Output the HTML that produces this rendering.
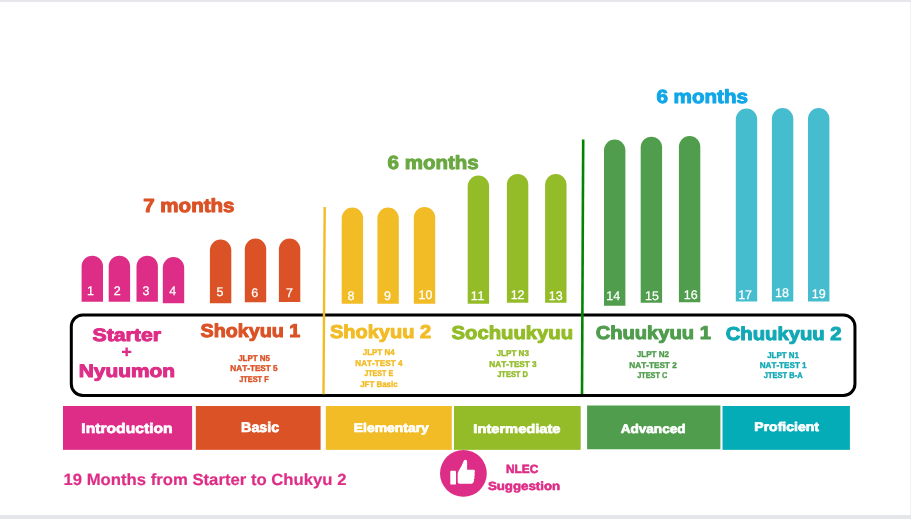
<!DOCTYPE html>
<html lang="en">
<head>
<meta charset="utf-8">
<title>NLEC Course Levels</title>
<style>
html,body{margin:0;padding:0;}
body{width:911px;height:519px;overflow:hidden;background:#ffffff;position:relative;
font-family:"Liberation Sans",sans-serif;}
#frame{position:absolute;left:0;top:0;width:911px;height:519px;}
#edge-top{position:absolute;left:0;top:0;width:911px;height:2px;background:#e5e7eb;}
#edge-bottom{position:absolute;left:0;top:515px;width:911px;height:4px;background:#e4e6ea;}
#edge-right{position:absolute;left:910px;top:2px;width:1px;height:513px;background:#f1f2f4;}
svg{position:absolute;left:0;top:0;will-change:transform;}
text{font-family:"Liberation Sans",sans-serif;font-kerning:none;text-rendering:geometricPrecision;}
</style>
</head>
<body>
<div id="frame">
<div id="edge-top"></div>
<div id="edge-bottom"></div>
<div id="edge-right"></div>
<svg width="911" height="519" viewBox="0 0 911 519">
<g id="bars">
<path d="M81.60 301.80V266.40A10.70 10.70 0 0 1 103.00 266.40V301.80Z" fill="#de2d87"/>
<path d="M108.70 301.80V266.40A10.70 10.70 0 0 1 130.10 266.40V301.80Z" fill="#de2d87"/>
<path d="M136.50 301.80V266.40A10.70 10.70 0 0 1 157.90 266.40V301.80Z" fill="#de2d87"/>
<path d="M162.80 303.20V267.80A10.70 10.70 0 0 1 184.20 267.80V303.20Z" fill="#de2d87"/>
<path d="M209.90 303.20V250.20A10.70 10.70 0 0 1 231.30 250.20V303.20Z" fill="#db5226"/>
<path d="M244.80 302.20V249.30A10.70 10.70 0 0 1 266.20 249.30V302.20Z" fill="#db5226"/>
<path d="M278.90 302.00V249.30A10.70 10.70 0 0 1 300.30 249.30V302.00Z" fill="#db5226"/>
<path d="M341.70 303.80V218.20A10.70 10.70 0 0 1 363.10 218.20V303.80Z" fill="#f2bc27"/>
<path d="M377.40 303.80V218.20A10.70 10.70 0 0 1 398.80 218.20V303.80Z" fill="#f2bc27"/>
<path d="M413.80 303.80V217.60A10.70 10.70 0 0 1 435.20 217.60V303.80Z" fill="#f2bc27"/>
<path d="M467.70 303.80V186.20A10.70 10.70 0 0 1 489.10 186.20V303.80Z" fill="#93bc28"/>
<path d="M506.90 302.80V184.60A10.70 10.70 0 0 1 528.30 184.60V302.80Z" fill="#93bc28"/>
<path d="M545.10 302.80V184.80A10.70 10.70 0 0 1 566.50 184.80V302.80Z" fill="#93bc28"/>
<path d="M604.00 305.80V150.20A10.70 10.70 0 0 1 625.40 150.20V305.80Z" fill="#4f9d4d"/>
<path d="M640.70 302.80V147.40A10.70 10.70 0 0 1 662.10 147.40V302.80Z" fill="#4f9d4d"/>
<path d="M678.90 302.20V146.80A10.70 10.70 0 0 1 700.30 146.80V302.20Z" fill="#4f9d4d"/>
<path d="M735.80 301.40V119.20A10.70 10.70 0 0 1 757.20 119.20V301.40Z" fill="#45bdcf"/>
<path d="M771.90 301.40V118.80A10.70 10.70 0 0 1 793.30 118.80V301.40Z" fill="#45bdcf"/>
<path d="M808.00 301.40V118.80A10.70 10.70 0 0 1 829.40 118.80V301.40Z" fill="#45bdcf"/>
</g>
<g id="bar-numbers" fill="#ffffff" stroke="#ffffff" stroke-width="0.25" font-size="12.5" text-anchor="middle">
<text x="90.40" y="295.20">1</text>
<text x="117.30" y="295.20">2</text>
<text x="145.90" y="295.20">3</text>
<text x="172.70" y="295.40">4</text>
<text x="220.00" y="295.80">5</text>
<text x="254.70" y="296.60">6</text>
<text x="289.60" y="296.60">7</text>
<text x="350.90" y="299.60">8</text>
<text x="387.40" y="299.60">9</text>
<text x="425.40" y="299.30">10</text>
<text x="477.60" y="299.60">11</text>
<text x="517.60" y="298.60">12</text>
<text x="555.80" y="299.80">13</text>
<text x="613.20" y="299.50">14</text>
<text x="652.00" y="299.50">15</text>
<text x="690.70" y="299.30">16</text>
<text x="745.10" y="298.70">17</text>
<text x="781.90" y="296.60">18</text>
<text x="818.70" y="297.80">19</text>
</g>
<rect id="levels-box" x="71.3" y="315.0" width="783.65" height="80.5" rx="11.5" ry="11.5" fill="none" stroke="#000000" stroke-width="3"/>
<line x1="324.7" y1="207.0" x2="323.5" y2="394.3" stroke="#f2bc27" stroke-width="2.4"/>
<line x1="583.2" y1="139.4" x2="582.0" y2="394.0" stroke="#028403" stroke-width="2.6"/>
<g id="categories">
<rect x="63.00" y="406.00" width="129.10" height="43.85" fill="#de2d87"/>
<rect x="195.80" y="406.00" width="124.80" height="43.85" fill="#db5226"/>
<rect x="325.80" y="406.00" width="126.00" height="43.85" fill="#f2bc27"/>
<rect x="454.00" y="406.00" width="126.70" height="43.85" fill="#93bc28"/>
<rect x="587.10" y="405.50" width="133.30" height="43.75" fill="#4f9d4d"/>
<rect x="722.50" y="406.00" width="127.40" height="43.85" fill="#03acb7"/>
</g>
<path d="M122.0 350.7H125.45V347.6H127.85V350.7H131.3V353.1H127.85V356.2H125.45V353.1H122.0Z" fill="#de2d87"/>
<g id="labels">
<text x="143.22" y="211.60" font-size="19.04" font-weight="bold" fill="#db5226" stroke="#db5226" stroke-width="1.0" stroke-linejoin="round" textLength="91.33" lengthAdjust="spacingAndGlyphs">7 months</text>
<text x="387.55" y="168.50" font-size="19.04" font-weight="bold" fill="#6aa842" stroke="#6aa842" stroke-width="1.0" stroke-linejoin="round" textLength="91.19" lengthAdjust="spacingAndGlyphs">6 months</text>
<text x="656.45" y="103.20" font-size="19.04" font-weight="bold" fill="#10a7e8" stroke="#10a7e8" stroke-width="1.0" stroke-linejoin="round" textLength="91.60" lengthAdjust="spacingAndGlyphs">6 months</text>
<text x="92.49" y="341.40" font-size="18.02" font-weight="bold" fill="#de2d87" stroke="#de2d87" stroke-width="1.0" stroke-linejoin="round" textLength="68.53" lengthAdjust="spacingAndGlyphs">Starter</text>
<text x="78.70" y="377.10" font-size="18.02" font-weight="bold" fill="#de2d87" stroke="#de2d87" stroke-width="1.0" stroke-linejoin="round" textLength="96.29" lengthAdjust="spacingAndGlyphs">Nyuumon</text>
<text x="200.53" y="337.20" font-size="18.6" font-weight="bold" fill="#db5226" stroke="#db5226" stroke-width="1.0" stroke-linejoin="round" textLength="99.72" lengthAdjust="spacingAndGlyphs">Shokyuu 1</text>
<text x="329.92" y="338.00" font-size="18.6" font-weight="bold" fill="#f2bc27" stroke="#f2bc27" stroke-width="1.0" stroke-linejoin="round" textLength="101.18" lengthAdjust="spacingAndGlyphs">Shokyuu 2</text>
<text x="451.52" y="338.60" font-size="18.6" font-weight="bold" fill="#93bc28" stroke="#93bc28" stroke-width="1.0" stroke-linejoin="round" textLength="121.62" lengthAdjust="spacingAndGlyphs">Sochuukyuu</text>
<text x="595.67" y="339.20" font-size="18.6" font-weight="bold" fill="#4f9d4d" stroke="#4f9d4d" stroke-width="1.0" stroke-linejoin="round" textLength="115.29" lengthAdjust="spacingAndGlyphs">Chuukyuu 1</text>
<text x="725.67" y="340.20" font-size="18.6" font-weight="bold" fill="#11a9b5" stroke="#11a9b5" stroke-width="1.0" stroke-linejoin="round" textLength="115.94" lengthAdjust="spacingAndGlyphs">Chuukyuu 2</text>
<text x="238.18" y="360.90" font-size="8.43" font-weight="bold" fill="#db5226" stroke="#db5226" stroke-width="0.4" stroke-linejoin="round" textLength="31.64" lengthAdjust="spacingAndGlyphs">JLPT N5</text>
<text x="230.35" y="371.20" font-size="8.43" font-weight="bold" fill="#db5226" stroke="#db5226" stroke-width="0.4" stroke-linejoin="round" textLength="47.28" lengthAdjust="spacingAndGlyphs">NAT-TEST 5</text>
<text x="239.19" y="381.90" font-size="8.43" font-weight="bold" fill="#db5226" stroke="#db5226" stroke-width="0.4" stroke-linejoin="round" textLength="29.48" lengthAdjust="spacingAndGlyphs">JTEST F</text>
<text x="362.78" y="354.90" font-size="8.43" font-weight="bold" fill="#f2bc27" stroke="#f2bc27" stroke-width="0.4" stroke-linejoin="round" textLength="31.86" lengthAdjust="spacingAndGlyphs">JLPT N4</text>
<text x="355.35" y="365.90" font-size="8.43" font-weight="bold" fill="#f2bc27" stroke="#f2bc27" stroke-width="0.4" stroke-linejoin="round" textLength="47.09" lengthAdjust="spacingAndGlyphs">NAT-TEST 4</text>
<text x="364.19" y="376.30" font-size="8.43" font-weight="bold" fill="#f2bc27" stroke="#f2bc27" stroke-width="0.4" stroke-linejoin="round" textLength="29.09" lengthAdjust="spacingAndGlyphs">JTEST E</text>
<text x="360.18" y="387.00" font-size="8.43" font-weight="bold" fill="#f2bc27" stroke="#f2bc27" stroke-width="0.4" stroke-linejoin="round" textLength="37.45" lengthAdjust="spacingAndGlyphs">JFT Basic</text>
<text x="496.58" y="356.30" font-size="8.43" font-weight="bold" fill="#93bc28" stroke="#93bc28" stroke-width="0.4" stroke-linejoin="round" textLength="32.31" lengthAdjust="spacingAndGlyphs">JLPT N3</text>
<text x="489.35" y="366.90" font-size="8.43" font-weight="bold" fill="#93bc28" stroke="#93bc28" stroke-width="0.4" stroke-linejoin="round" textLength="47.34" lengthAdjust="spacingAndGlyphs">NAT-TEST 3</text>
<text x="497.19" y="377.30" font-size="8.43" font-weight="bold" fill="#93bc28" stroke="#93bc28" stroke-width="0.4" stroke-linejoin="round" textLength="30.73" lengthAdjust="spacingAndGlyphs">JTEST D</text>
<text x="636.78" y="357.30" font-size="8.43" font-weight="bold" fill="#4f9d4d" stroke="#4f9d4d" stroke-width="0.4" stroke-linejoin="round" textLength="32.14" lengthAdjust="spacingAndGlyphs">JLPT N2</text>
<text x="629.35" y="367.90" font-size="8.43" font-weight="bold" fill="#4f9d4d" stroke="#4f9d4d" stroke-width="0.4" stroke-linejoin="round" textLength="47.38" lengthAdjust="spacingAndGlyphs">NAT-TEST 2</text>
<text x="637.19" y="378.30" font-size="8.43" font-weight="bold" fill="#4f9d4d" stroke="#4f9d4d" stroke-width="0.4" stroke-linejoin="round" textLength="30.01" lengthAdjust="spacingAndGlyphs">JTEST C</text>
<text x="767.18" y="358.30" font-size="8.43" font-weight="bold" fill="#11a9b5" stroke="#11a9b5" stroke-width="0.4" stroke-linejoin="round" textLength="31.64" lengthAdjust="spacingAndGlyphs">JLPT N1</text>
<text x="759.76" y="367.90" font-size="8.43" font-weight="bold" fill="#11a9b5" stroke="#11a9b5" stroke-width="0.4" stroke-linejoin="round" textLength="46.87" lengthAdjust="spacingAndGlyphs">NAT-TEST 1</text>
<text x="763.79" y="378.30" font-size="8.43" font-weight="bold" fill="#11a9b5" stroke="#11a9b5" stroke-width="0.4" stroke-linejoin="round" textLength="38.81" lengthAdjust="spacingAndGlyphs">JTEST B-A</text>
<text x="81.30" y="432.55" font-size="13.95" font-weight="bold" fill="#ffffff" stroke="#ffffff" stroke-width="0.7" stroke-linejoin="round" textLength="91.32" lengthAdjust="spacingAndGlyphs">Introduction</text>
<text x="241.09" y="431.55" font-size="14.1" font-weight="bold" fill="#ffffff" stroke="#ffffff" stroke-width="0.7" stroke-linejoin="round" textLength="38.18" lengthAdjust="spacingAndGlyphs">Basic</text>
<text x="353.72" y="431.55" font-size="12.5" font-weight="bold" fill="#ffffff" stroke="#ffffff" stroke-width="0.7" stroke-linejoin="round" textLength="75.11" lengthAdjust="spacingAndGlyphs">Elementary</text>
<text x="473.37" y="432.65" font-size="12.5" font-weight="bold" fill="#ffffff" stroke="#ffffff" stroke-width="0.7" stroke-linejoin="round" textLength="87.18" lengthAdjust="spacingAndGlyphs">Intermediate</text>
<text x="620.71" y="432.65" font-size="12.5" font-weight="bold" fill="#ffffff" stroke="#ffffff" stroke-width="0.7" stroke-linejoin="round" textLength="64.83" lengthAdjust="spacingAndGlyphs">Advanced</text>
<text x="754.31" y="430.75" font-size="12.5" font-weight="bold" fill="#ffffff" stroke="#ffffff" stroke-width="0.7" stroke-linejoin="round" textLength="64.61" lengthAdjust="spacingAndGlyphs">Proficient</text>
<text x="63.45" y="484.50" font-size="16.28" font-weight="bold" fill="#de2d87" stroke="#de2d87" stroke-width="0.2" stroke-linejoin="round" textLength="283.02" lengthAdjust="spacingAndGlyphs">19 Months from Starter to Chukyu 2</text>
<text x="506.01" y="472.60" font-size="11.92" font-weight="bold" fill="#de2d87" stroke="#de2d87" stroke-width="0.6" stroke-linejoin="round" textLength="32.32" lengthAdjust="spacingAndGlyphs">NLEC</text>
<text x="487.92" y="489.50" font-size="11.92" font-weight="bold" fill="#de2d87" stroke="#de2d87" stroke-width="0.6" stroke-linejoin="round" textLength="72.31" lengthAdjust="spacingAndGlyphs">Suggestion</text>
</g>
<circle cx="463.4" cy="473.4" r="23.4" fill="#de2d87"/>
<g id="thumb" fill="#ffffff">
<rect x="450.3" y="470.8" width="5.7" height="13.8" rx="0.9"/>
<path d="M457.7 473.4 Q458.2 471.4 459.6 469.3 Q462.0 465.6 463.2 462.1 Q463.9 459.8 465.6 459.8 Q467.1 459.9 467.1 461.6 L467.1 469.85 L473.4 469.85 Q474.9 469.9 474.9 471.2 Q474.9 472.3 474.35 473.2 Q474.95 473.8 474.85 474.6 Q474.8 475.8 474.15 476.5 Q474.7 477.1 474.55 477.8 Q474.4 479.0 473.75 479.6 Q474.2 480.1 474.05 480.8 Q473.8 482.6 472.6 483.2 Q472.0 483.7 471.2 483.7 L459.6 483.7 Q457.7 483.6 457.7 482.0 Z"/>
</g>
</svg>
</div>
</body>
</html>
